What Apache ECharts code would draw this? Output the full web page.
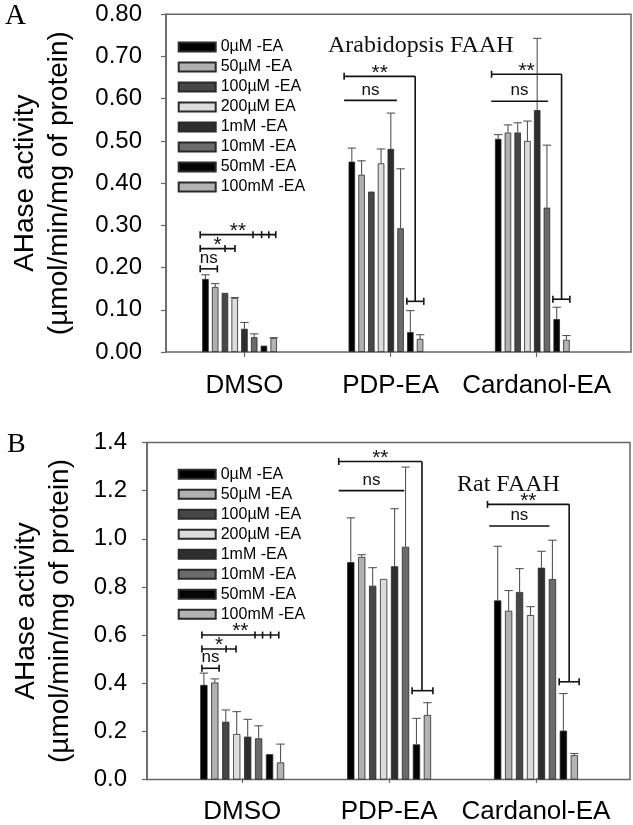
<!DOCTYPE html>
<html><head><meta charset="utf-8">
<script src="https://cdn.jsdelivr.net/npm/echarts@6/dist/echarts.min.js"></script>
<style>html,body{margin:0;padding:0;background:#fff}#c{width:633px;height:825px}</style>
</head><body><div id="c"></div>
<script>
// ---------- data ----------
const categories = ['DMSO', 'PDP-EA', 'Cardanol-EA'];
const namesA = ['0µM -EA', '50µM -EA', '100µM -EA', '200µM EA', '1mM -EA', '10mM -EA', '50mM -EA', '100mM -EA'];
const namesB = ['0µM -EA', '50µM -EA', '100µM -EA', '200µM -EA', '1mM -EA', '10mM -EA', '50mM -EA', '100mM -EA'];
const barColors = ['#000000', '#b0b0b0', '#474747', '#dcdcdc', '#2e2e2e', '#6b6b6b', '#050505', '#b3b3b3'];

// Panel A (Arabidopsis FAAH): one row per concentration, columns = categories
const valuesA = [
  [0.173, 0.451, 0.505],
  [0.154, 0.420, 0.520],
  [0.140, 0.380, 0.520],
  [0.128, 0.447, 0.500],
  [0.055, 0.481, 0.573],
  [0.035, 0.293, 0.342],
  [0.015, 0.047, 0.078],
  [0.033, 0.031, 0.029]
];
const errorsA = [
  [0.010, 0.032, 0.010],
  [0.008, 0.033, 0.018],
  [0.000, 0.000, 0.023],
  [0.001, 0.034, 0.047],
  [0.015, 0.085, 0.170],
  [0.008, 0.141, 0.148],
  [0.000, 0.051, 0.028],
  [0.001, 0.010, 0.010]
];
// Panel B (Rat FAAH)
const valuesB = [
  [0.393, 0.903, 0.744],
  [0.403, 0.925, 0.701],
  [0.240, 0.805, 0.779],
  [0.189, 0.833, 0.683],
  [0.178, 0.886, 0.880],
  [0.171, 0.967, 0.833],
  [0.105, 0.146, 0.203],
  [0.071, 0.268, 0.101]
];
const errorsB = [
  [0.049, 0.184, 0.225],
  [0.015, 0.009, 0.084],
  [0.049, 0.075, 0.097],
  [0.093, 0.000, 0.035],
  [0.072, 0.239, 0.068],
  [0.052, 0.331, 0.161],
  [0.000, 0.108, 0.154],
  [0.076, 0.051, 0.007]
];
// significance brackets: g = category, x1/x2/caps/s1/s2 in bar-index units, y/drop in data units
const sigA = [
  {g: 0, x1: -0.54, x2: 1.22, y: 0.197, caps: [-0.54, 1.22], label: 'ns'},
  {g: 0, x1: -0.54, x2: 3.03, y: 0.245, caps: [-0.54, 2.01, 3.03], label: '*'},
  {g: 0, x1: -0.54, x2: 7.21, y: 0.278, caps: [-0.54, 4.87, 5.76, 6.5, 7.21], label: '**'},
  {g: 1, x1: -0.79, x2: 4.62, y: 0.596, caps: [], label: 'ns'},
  {g: 1, x1: -0.79, x2: 6.5, y: 0.653, caps: [-0.79], label: '**', drop: 0.12, s1: 5.64, s2: 7.38},
  {g: 2, x1: -0.71, x2: 5.1, y: 0.594, caps: [], label: 'ns'},
  {g: 2, x1: -0.68, x2: 6.5, y: 0.658, caps: [-0.68], label: '**', drop: 0.125, s1: 5.61, s2: 7.35}
];
const sigB = [
  {g: 0, x1: -0.18, x2: 1.39, y: 0.462, caps: [-0.18, 1.39], label: 'ns'},
  {g: 0, x1: -0.18, x2: 2.94, y: 0.542, caps: [-0.18, 2.03, 2.94], label: '*'},
  {g: 0, x1: -0.18, x2: 6.84, y: 0.600, caps: [-0.18, 4.67, 5.36, 6.09, 6.84], label: '**'},
  {g: 1, x1: -1.1, x2: 4.89, y: 1.200, caps: [], label: 'ns'},
  {g: 1, x1: -1.1, x2: 6.5, y: 1.321, caps: [-1.1], label: '**', drop: 0.369, s1: 5.6, s2: 7.5},
  {g: 2, x1: -0.77, x2: 4.73, y: 1.053, caps: [], label: 'ns'},
  {g: 2, x1: -0.93, x2: 6.53, y: 1.143, caps: [-0.93], label: '**', drop: 0.406, s1: 5.62, s2: 7.44}
];
const yTicksA = {min: 0, max: 0.8, interval: 0.1, digits: 2};
const yTicksB = {min: 0, max: 1.4, interval: 0.2, digits: 1};

// ---------- layout / style ----------
const SANS = 'Liberation Sans, Arial, sans-serif';
const SERIF = 'Liberation Serif, Times New Roman, serif';
const FRAME = '#666';

const panels = [
  {names: namesA, values: valuesA, errors: errorsA, sig: sigA, ticks: yTicksA,
   frame: {left: 149.3, top: 14.3, width: 481.7, height: 337.7},
   labelGrid: {left: 171.45, width: 438.3},
   dataGrid: {left: 166.4, width: 439.1},
   barW: 6.5, pitch: 9.75, labelMargin: 24, nameGap: 90, legendTop: 34},
  {names: namesB, values: valuesB, errors: errorsB, sig: sigB, ticks: yTicksB,
   frame: {left: 147, top: 442.5, width: 483, height: 337},
   labelGrid: {left: 168.75, width: 440.7},
   dataGrid: {left: 168.75, width: 440.7},
   barW: 7.3, pitch: 10.95, labelMargin: 20, nameGap: 70, legendTop: 461.3}
];

function errRender(pitch) {
  return function (params, api) {
    const c = api.value(0), s = api.value(1), v = api.value(2), e = api.value(3);
    const p0 = api.coord([c, v]);
    const p1 = api.coord([c, v + e]);
    const x = p0[0] + (s - 3.5) * pitch;
    const st = {stroke: '#555', lineWidth: 1.1};
    return {type: 'group', children: [
      {type: 'line', shape: {x1: x, y1: p0[1], x2: x, y2: p1[1]}, style: st},
      {type: 'line', shape: {x1: x - 4.2, y1: p1[1], x2: x + 4.2, y2: p1[1]}, style: st}
    ]};
  };
}

function sigRender(list, pitch) {
  return function (params, api) {
    const b = list[params.dataIndex];
    const base = api.coord([b.g, b.y]);
    const X = i => base[0] + (i - 3.5) * pitch;
    const yy = base[1];
    const ls = {stroke: '#111', lineWidth: 1.6};
    const ch = [];
    const xa = X(b.x1), xe = X(b.x2);
    ch.push({type: 'line', shape: {x1: xa, y1: yy, x2: xe, y2: yy}, style: ls});
    b.caps.forEach(c => ch.push({type: 'line', shape: {x1: X(c), y1: yy - 3.5, x2: X(c), y2: yy + 3.5}, style: ls}));
    if (b.drop != null) {
      const yd = api.coord([b.g, b.drop])[1];
      ch.push({type: 'line', shape: {x1: xe, y1: yy, x2: xe, y2: yd}, style: ls});
      ch.push({type: 'line', shape: {x1: X(b.s1), y1: yd, x2: X(b.s2), y2: yd}, style: ls});
      [b.s1, b.s2].forEach(c => ch.push({type: 'line', shape: {x1: X(c), y1: yd - 3.5, x2: X(c), y2: yd + 3.5}, style: ls}));
    }
    const isStar = b.label.indexOf('*') >= 0;
    ch.push({type: 'text', style: {
      text: b.label, x: (xa + xe) / 2, y: isStar ? yy + 7 : yy - 2,
      align: 'center', verticalAlign: 'bottom',
      fontSize: isStar ? 21 : 17, fontFamily: SANS, fill: '#111'
    }});
    return {type: 'group', children: ch};
  };
}

const grid = [], xAxis = [], yAxis = [], series = [], legend = [];
panels.forEach((p, k) => {
  const gi = k * 3;
  const f = p.frame;
  grid.push({left: f.left, top: f.top, width: f.width, height: f.height, show: true,
             borderColor: FRAME, borderWidth: 1.5, backgroundColor: 'transparent'});
  grid.push({left: p.labelGrid.left, width: p.labelGrid.width, top: f.top, height: f.height});
  grid.push({left: p.dataGrid.left, width: p.dataGrid.width, top: f.top, height: f.height});
  // x axes
  xAxis.push({type: 'value', gridIndex: gi, min: 0, max: 1, show: false});
  xAxis.push({type: 'category', gridIndex: gi + 1, data: categories,
    axisLine: {show: false},
    axisTick: {show: true, alignWithLabel: true, length: 5, lineStyle: {color: FRAME, width: 1.2}},
    axisLabel: {interval: 0, fontSize: 26, fontFamily: SANS, color: '#000', margin: 21}});
  xAxis.push({type: 'category', gridIndex: gi + 2, data: categories, show: false});
  // y axes
  const t = p.ticks;
  yAxis.push({type: 'value', gridIndex: gi, min: t.min, max: t.max, interval: t.interval,
    name: 'AHase activity\n(µmol/min/mg of protein)', nameLocation: 'middle', nameRotate: 90,
    nameGap: p.nameGap,
    nameTextStyle: {fontSize: 28, fontFamily: SANS, color: '#000', lineHeight: 34},
    axisLine: {show: true, lineStyle: {color: FRAME, width: 1.5}},
    axisTick: {show: true, length: 5, lineStyle: {color: FRAME, width: 1.2}},
    splitLine: {show: false},
    axisLabel: {fontSize: 24, fontFamily: SANS, color: '#000', margin: p.labelMargin,
                formatter: v => v.toFixed(t.digits)}});
  yAxis.push({type: 'value', gridIndex: gi + 1, min: t.min, max: t.max, show: false});
  yAxis.push({type: 'value', gridIndex: gi + 2, min: t.min, max: t.max, show: false});
  // bars
  p.names.forEach((nm, i) => {
    series.push({type: 'bar', name: nm, xAxisIndex: gi + 2, yAxisIndex: gi + 2,
      data: p.values[i], barWidth: p.barW, barGap: '50%',
      itemStyle: {color: barColors[i], borderColor: '#2a2a2a', borderWidth: 0.8},
      z: 2});
  });
  // error bars
  const ed = [];
  p.values.forEach((row, s) => row.forEach((v, c) => { if (p.errors[s][c] > 0) ed.push([c, s, v, p.errors[s][c]]); }));
  series.push({type: 'custom', xAxisIndex: gi + 2, yAxisIndex: gi + 2, data: ed,
    encode: {x: 0, y: 2}, renderItem: errRender(p.pitch), z: 3, clip: false, silent: true});
  // significance brackets
  series.push({type: 'custom', xAxisIndex: gi + 2, yAxisIndex: gi + 2,
    data: p.sig.map(b => [b.g, b.y]), encode: {x: 0, y: 1},
    renderItem: sigRender(p.sig, p.pitch), z: 4, clip: false, silent: true});
  legend.push({data: p.names, orient: 'vertical', left: 172.7, top: p.legendTop,
    itemWidth: 37, itemHeight: 9, itemGap: 4, icon: 'rect', selectedMode: false,
    textStyle: {fontSize: 16, lineHeight: 16, fontFamily: SANS, color: '#000'}});
});

const title = [
  {text: 'A', left: 0, top: -3, textStyle: {fontFamily: SERIF, fontSize: 29, fontWeight: 'normal', color: '#000'}},
  {text: 'B', left: 2, top: 426, textStyle: {fontFamily: SERIF, fontSize: 28, fontWeight: 'normal', color: '#000'}},
  {text: 'Arabidopsis FAAH', left: 323, top: 29, textStyle: {fontFamily: SERIF, fontSize: 24, fontWeight: 'normal', color: '#111'}},
  {text: 'Rat FAAH', left: 452, top: 468, textStyle: {fontFamily: SERIF, fontSize: 24, fontWeight: 'normal', color: '#111'}}
];

const chart = echarts.init(document.getElementById('c'), null, {renderer: 'canvas'});
chart.setOption({animation: false, backgroundColor: '#fff', title, grid, xAxis, yAxis, series, legend});
</script>
</body></html>
